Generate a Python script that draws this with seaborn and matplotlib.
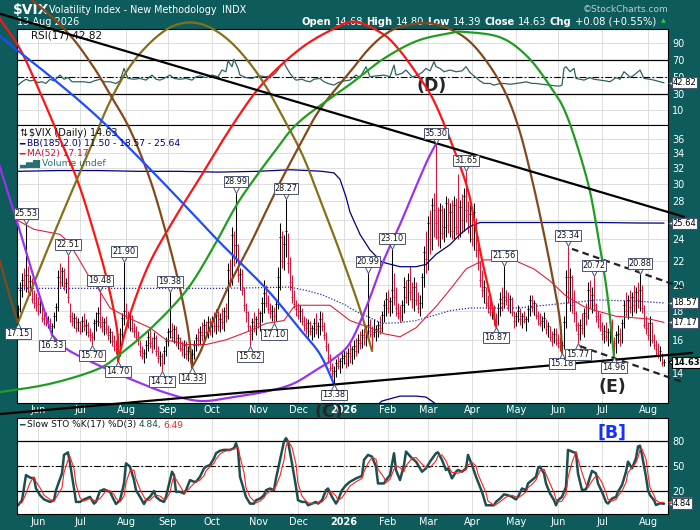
import numpy as np
import pandas as pd
import matplotlib
matplotlib.use("Agg")
import matplotlib.pyplot as plt
import matplotlib.transforms as mtransforms
from matplotlib.ticker import NullLocator
import seaborn as sns

# --- $VIX daily bars (one value per trading day) ---
first_day = "2025-05-19"

bar_high = [
    18.4, 20.2, 21.0, 21.4, 25.53, 21.6, 20.8, 20.5, 19.6, 19.3,
    19.0, 18.9, 18.6, 18.0, 17.9, 17.6, 17.5, 17.1, 17.9, 18.6,
    21.2, 21.8, 21.5, 21.4, 20.5, 22.51, 18.6, 17.9, 17.8, 17.6,
    17.5, 17.3, 17.6, 17.8, 17.4, 17.2, 16.8, 16.5, 17.4, 17.9,
    18.3, 19.48, 17.6, 17.5, 17.6, 17.0, 16.8, 16.6, 16.3, 16.0,
    16.3, 16.8, 17.8, 21.90, 18.6, 18.0, 17.9, 17.7, 17.1, 16.9,
    16.6, 16.0, 15.6, 15.4, 16.0, 16.6, 16.8, 16.2, 16.5, 16.3,
    15.6, 15.3, 15.2, 15.6, 16.2, 16.8, 19.38, 17.1, 17.0, 16.9,
    16.4, 16.2, 15.9, 16.0, 15.9, 15.6, 15.5, 15.4, 16.0, 16.4,
    16.8, 16.9, 17.2, 17.4, 17.3, 17.6, 17.5, 17.6, 17.9, 18.1,
    18.0, 17.8, 18.2, 18.3, 18.6, 21.8, 22.2, 25.2, 24.8, 28.99,
    23.6, 21.4, 21.3, 19.8, 18.6, 18.0, 17.0, 17.5, 17.9, 17.6,
    18.2, 18.0, 19.0, 20.4, 20.0, 19.2, 18.6, 18.4, 18.3, 18.9,
    21.5, 25.6, 24.8, 24.4, 28.27, 24.6, 22.4, 20.8, 19.6, 18.8,
    18.6, 18.4, 18.2, 17.6, 17.5, 17.4, 17.3, 17.0, 17.5, 17.8,
    17.2, 18.0, 17.9, 17.2, 16.5, 15.8, 15.1, 14.6, 14.4, 14.8,
    15.0, 14.9, 15.2, 15.4, 15.3, 15.5, 15.8, 15.6, 16.0, 16.1,
    16.4, 16.6, 16.7, 16.8, 17.0, 20.99, 17.4, 16.9, 17.4, 17.0,
    17.3, 17.6, 18.0, 18.8, 19.4, 19.6, 19.0, 23.10, 21.0, 19.8,
    18.6, 18.4, 18.8, 20.6, 20.4, 21.0, 21.6, 20.2, 20.6, 20.2,
    19.4, 19.2, 21.0, 23.4, 24.8, 26.4, 27.0, 28.4, 29.0, 35.30,
    27.4, 27.8, 27.6, 27.2, 28.6, 28.4, 27.8, 28.2, 28.6, 28.4,
    31.3, 28.2, 28.8, 29.6, 31.65, 28.0, 27.6, 26.8, 27.8, 26.2,
    24.2, 22.0, 21.2, 20.4, 19.8, 19.2, 19.0, 18.6, 18.4, 17.8,
    18.6, 19.4, 19.8, 21.56, 19.6, 19.4, 19.2, 19.0, 18.0, 17.9,
    18.4, 18.2, 17.8, 18.0, 17.6, 18.4, 19.2, 19.2, 18.8, 18.6,
    18.0, 17.8, 17.6, 17.9, 17.4, 17.2, 16.9, 16.6, 16.8, 16.8,
    16.4, 16.2, 15.9, 17.6, 21.2, 23.34, 21.4, 20.8, 19.6, 18.0,
    17.2, 17.4, 17.8, 18.2, 18.6, 20.2, 20.4, 19.8, 20.72, 18.6,
    18.0, 17.8, 17.2, 17.0, 17.2, 16.8, 17.6, 17.4, 16.2, 16.6,
    17.0, 16.8, 17.4, 18.8, 19.4, 19.2, 19.6, 19.4, 20.0, 19.8,
    20.2, 20.88, 20.0, 18.4, 17.6, 17.2, 17.6, 17.2, 16.4, 16.0,
    15.8, 15.6, 15.2, 14.80,
]
bar_low = [
    17.15, 17.9, 19.0, 19.6, 19.4, 19.3, 19.2, 18.6, 18.2, 18.0,
    17.7, 17.8, 17.2, 17.0, 16.9, 16.8, 16.6, 16.33, 16.8, 17.3,
    18.0, 19.8, 19.9, 19.6, 19.3, 18.6, 17.2, 16.9, 16.8, 16.5,
    16.6, 16.4, 16.5, 16.6, 16.3, 16.2, 15.9, 15.70, 16.0, 16.6,
    16.9, 16.8, 16.5, 16.3, 16.4, 16.0, 15.8, 15.6, 15.3, 15.1,
    14.70, 15.0, 15.9, 17.0, 17.4, 16.8, 16.6, 16.5, 16.2, 15.9,
    15.7, 15.0, 14.8, 14.6, 14.9, 15.3, 15.5, 15.2, 15.4, 15.0,
    14.6, 14.4, 14.12, 14.5, 15.0, 15.6, 16.1, 15.9, 15.8, 15.6,
    15.4, 15.3, 15.0, 14.9, 14.8, 14.7, 14.6, 14.33, 14.8, 15.3,
    15.6, 15.7, 15.9, 16.0, 16.2, 16.1, 16.3, 16.2, 16.5, 16.4,
    16.6, 16.5, 16.7, 16.6, 17.2, 17.4, 19.8, 20.0, 21.6, 21.8,
    20.2, 19.6, 19.2, 18.0, 17.2, 16.6, 15.62, 16.0, 16.5, 16.3,
    16.8, 16.6, 17.2, 17.8, 18.3, 17.8, 17.5, 17.3, 17.10, 17.3,
    18.1, 19.6, 21.4, 21.2, 22.4, 21.0, 19.6, 18.6, 18.2, 17.6,
    17.4, 17.2, 17.0, 16.6, 16.4, 16.2, 16.3, 16.0, 16.2, 16.4,
    16.1, 16.3, 16.6, 16.0, 15.3, 14.6, 14.1, 13.8, 13.38, 13.8,
    14.2, 14.0, 14.3, 14.5, 14.3, 14.4, 14.6, 14.5, 14.8, 15.0,
    15.2, 15.4, 15.5, 15.7, 15.6, 16.2, 16.2, 15.3, 16.2, 15.9,
    16.2, 16.4, 16.5, 17.2, 17.6, 17.8, 17.6, 17.8, 18.4, 17.6,
    17.4, 17.2, 17.3, 17.8, 18.6, 18.4, 18.8, 18.2, 18.0, 18.4,
    17.8, 17.6, 18.2, 19.8, 21.0, 21.2, 22.6, 23.0, 24.2, 24.0,
    23.4, 23.2, 24.0, 23.8, 24.2, 24.6, 24.2, 24.0, 24.0, 24.4,
    24.0, 24.2, 24.6, 24.8, 25.8, 24.6, 23.8, 23.4, 23.0, 22.4,
    21.2, 19.8, 19.0, 18.6, 18.2, 17.8, 17.6, 17.4, 17.0, 16.87,
    17.0, 17.6, 18.0, 18.2, 18.4, 18.0, 17.8, 17.6, 16.8, 16.9,
    17.2, 17.0, 16.8, 17.1, 16.6, 17.2, 17.6, 17.9, 17.7, 17.4,
    17.0, 16.9, 16.6, 16.8, 16.4, 16.2, 15.9, 15.6, 15.8, 15.7,
    15.5, 15.3, 15.18, 15.4, 16.8, 18.6, 18.0, 17.8, 17.2, 16.6,
    15.77, 16.0, 16.4, 16.2, 17.0, 17.4, 18.2, 17.8, 18.0, 17.2,
    16.8, 16.6, 16.0, 15.8, 15.9, 15.6, 15.8, 15.6, 14.96, 15.2,
    15.8, 15.6, 15.8, 16.8, 17.6, 17.4, 17.8, 17.6, 17.9, 17.8,
    18.2, 18.0, 17.8, 16.8, 16.4, 16.0, 15.6, 15.8, 15.4, 15.0,
    14.9, 14.7, 14.4, 14.39,
]
bar_close = [
    18.1, 19.6, 20.4, 20.0, 20.8, 19.8, 20.3, 18.9, 18.6, 18.4,
    18.0, 18.5, 17.5, 17.4, 17.1, 17.3, 16.8, 16.9, 17.6, 18.3,
    20.6, 20.2, 21.1, 19.9, 20.1, 19.0, 17.6, 17.3, 17.5, 16.8,
    17.2, 16.6, 17.3, 16.9, 17.0, 16.5, 16.3, 16.2, 17.1, 17.3,
    17.8, 17.2, 16.9, 17.2, 16.7, 16.3, 16.5, 15.9, 15.6, 15.4,
    15.2, 16.4, 17.5, 18.0, 17.7, 17.2, 17.6, 16.8, 16.6, 16.2,
    16.0, 15.3, 15.0, 15.2, 15.7, 16.2, 15.8, 15.6, 16.1, 15.3,
    14.9, 15.0, 14.6, 15.3, 15.9, 16.5, 16.6, 16.2, 16.7, 15.9,
    16.1, 15.5, 15.4, 15.7, 15.1, 15.3, 14.9, 15.1, 15.7, 16.1,
    16.0, 16.5, 16.3, 17.0, 16.5, 17.2, 16.6, 17.3, 16.9, 17.7,
    16.9, 17.4, 17.2, 18.0, 17.6, 21.2, 20.4, 24.4, 22.3, 23.5,
    20.8, 20.9, 19.6, 18.4, 17.9, 16.9, 16.4, 17.2, 16.9, 17.4,
    17.1, 17.8, 18.6, 19.3, 18.6, 18.1, 17.8, 18.0, 17.6, 18.5,
    20.6, 24.2, 22.0, 23.6, 24.8, 21.8, 20.2, 19.0, 18.5, 18.1,
    17.7, 18.0, 17.3, 17.0, 16.8, 17.1, 16.6, 16.8, 17.1, 16.7,
    16.9, 17.4, 16.9, 16.3, 15.6, 14.9, 14.3, 14.0, 14.1, 14.6,
    14.4, 14.7, 14.9, 15.0, 14.6, 15.2, 15.0, 15.4, 15.6, 15.3,
    16.0, 15.8, 16.3, 16.2, 16.5, 17.0, 16.6, 16.4, 16.5, 16.7,
    17.0, 16.8, 17.7, 18.4, 18.9, 18.2, 18.7, 19.6, 19.0, 18.2,
    17.8, 17.6, 18.4, 19.8, 19.0, 20.4, 19.4, 18.9, 19.8, 18.8,
    18.2, 18.6, 20.6, 22.8, 22.2, 25.6, 24.0, 27.6, 27.0, 25.6,
    24.2, 27.0, 24.6, 25.2, 27.8, 25.4, 26.8, 24.8, 27.6, 25.2,
    24.6, 27.4, 26.0, 28.6, 27.0, 25.2, 26.6, 24.0, 26.8, 23.0,
    21.8, 20.4, 19.6, 19.8, 18.6, 18.4, 17.9, 18.2, 17.4, 17.2,
    18.2, 18.9, 18.6, 19.0, 18.8, 18.4, 18.9, 17.9, 17.3, 17.6,
    18.0, 17.4, 17.6, 17.3, 17.4, 18.1, 18.8, 18.3, 18.6, 17.7,
    17.6, 17.1, 17.3, 17.5, 16.7, 16.9, 16.2, 15.9, 16.4, 16.0,
    15.8, 15.6, 15.7, 17.2, 20.6, 19.4, 20.6, 18.4, 17.8, 17.0,
    16.4, 17.0, 16.8, 17.8, 17.6, 19.6, 18.8, 19.2, 18.4, 17.6,
    17.4, 16.9, 16.4, 16.6, 16.2, 16.5, 17.2, 15.9, 15.8, 16.3,
    16.4, 16.0, 17.1, 18.4, 18.0, 18.8, 18.3, 19.0, 18.4, 19.4,
    18.8, 19.6, 18.2, 17.0, 16.8, 16.3, 17.1, 16.0, 15.7, 15.4,
    15.2, 15.3, 14.55, 14.63,
]

# --- Bollinger bands (185, 2) and MA(52), read at sample days ---
bb_idx = [0, 20, 40, 60, 80, 100, 120, 136, 145, 152,
          158, 161, 164, 166, 171, 176, 182, 191, 199, 204,
          209, 216, 221, 226, 231, 250, 270, 290, 310, 323]
bb_upper = [31.6, 31.7, 31.7, 31.6, 31.6, 31.5, 31.6, 31.8, 31.7, 31.6,
            31.4, 30.6, 28.5, 26.8, 24.5, 23.0, 21.9, 21.5, 21.5, 21.7,
            22.6, 23.5, 24.5, 25.3, 25.7, 25.7, 25.7, 25.7, 25.65, 25.64]
bb_mid = [19.7, 19.7, 19.7, 19.7, 19.7, 19.7, 19.75, 19.8, 19.5, 19.2,
          18.8, 18.6, 18.4, 18.2, 17.8, 17.5, 17.1, 17.15, 17.3, 17.5,
          17.7, 18.0, 18.1, 18.2, 18.2, 18.2, 18.5, 18.8, 18.7, 18.57]
bb_lower = [7.8, 7.7, 7.7, 7.8, 7.8, 7.9, 7.9, 7.8, 7.1, 6.6,
            6.2, 6.4, 7.9, 9.2, 10.7, 12.0, 12.5, 12.75, 12.75, 12.7,
            12.35, 12.0, 11.7, 11.1, 10.7, 10.7, 11.3, 11.9, 11.75, 11.50]

ma_idx = [0, 8, 21, 25, 30, 35, 40, 46, 55, 66,
          74, 84, 94, 104, 116, 124, 133, 138, 141, 156,
          166, 176, 183, 191, 199, 209, 216, 224, 233, 243,
          249, 258, 266, 274, 283, 289, 299, 316, 323]
ma_val = [25.9, 25.0, 24.5, 23.8, 22.3, 20.8, 19.7, 18.2, 17.5, 16.8,
          16.0, 15.7, 15.7, 16.0, 16.6, 17.1, 17.3, 18.3, 18.4, 18.4,
          17.3, 16.8, 16.4, 16.2, 16.8, 18.3, 19.6, 21.3, 22.1, 22.1,
          22.0, 21.3, 20.3, 19.1, 18.3, 18.0, 17.6, 17.4, 17.17]

# --- RSI(17) ---
rsi_idx = [0, 2, 4, 6, 8, 10, 12, 14, 16, 18,
           21, 23, 25, 27, 30, 33, 36, 38, 41, 43,
           46, 49, 51, 53, 55, 58, 61, 64, 67, 69,
           71, 73, 76, 78, 81, 84, 87, 89, 91, 94,
           97, 100, 102, 104, 105, 107, 108, 110, 111, 114,
           117, 119, 121, 124, 127, 129, 131, 133, 134, 136,
           138, 139, 142, 144, 146, 148, 151, 153, 155, 158,
           160, 163, 166, 169, 171, 174, 176, 179, 183, 186,
           188, 189, 192, 194, 197, 199, 202, 204, 206, 208,
           209, 211, 213, 216, 219, 222, 224, 226, 228, 231,
           233, 236, 238, 241, 243, 246, 249, 252, 254, 257,
           259, 262, 266, 269, 271, 272, 273, 274, 276, 278,
           279, 281, 283, 286, 288, 291, 294, 296, 299, 301,
           303, 305, 306, 308, 311, 313, 316, 318, 321, 323]
rsi_val = [40, 44, 47, 45, 46, 43, 44, 42, 47, 45,
           52, 47, 49, 44, 44, 44, 43, 45, 47, 44,
           44, 42, 45, 60, 48, 47, 48, 46, 52, 47,
           46, 48, 52, 48, 47, 48, 46, 50, 51, 49,
           52, 50, 58, 56, 69, 62, 71, 60, 52, 49,
           48, 50, 51, 50, 51, 55, 62, 67, 62, 54,
           48, 46, 47, 45, 44, 47, 48, 44, 42, 40,
           43, 45, 46, 52, 49, 62, 50, 51, 52, 50,
           64, 52, 54, 58, 50, 51, 55, 60, 57, 68,
           62, 60, 56, 58, 56, 57, 62, 55, 51, 45,
           42, 42, 40, 42, 42, 41, 42, 43, 44, 42,
           42, 41, 40, 39, 39, 40, 60, 62, 56, 60,
           48, 47, 46, 49, 47, 46, 45, 44, 49, 47,
           56, 52, 49, 52, 58, 48, 47, 46, 44, 42.82]

# --- Slow stochastic %K(17) %D(3) ---
sto_idx = [0, 2, 4, 6, 8, 9, 11, 13, 16, 18,
           19, 22, 23, 25, 26, 28, 29, 31, 33, 34,
           36, 38, 39, 41, 43, 44, 46, 48, 49, 51,
           53, 54, 56, 58, 59, 61, 63, 64, 66, 68,
           69, 71, 73, 74, 76, 77, 78, 79, 81, 83,
           84, 86, 88, 89, 91, 93, 94, 96, 98, 99,
           101, 103, 106, 108, 109, 110, 111, 113, 114, 116,
           118, 119, 121, 123, 124, 126, 128, 129, 131, 133,
           134, 135, 137, 139, 140, 142, 144, 145, 147, 149,
           150, 152, 154, 155, 157, 159, 160, 162, 164, 166,
           169, 172, 173, 175, 177, 179, 180, 183, 184, 186,
           188, 189, 191, 193, 194, 197, 199, 202, 204, 206,
           209, 210, 212, 214, 215, 217, 219, 220, 222, 224,
           225, 227, 229, 230, 232, 234, 235, 238, 239, 241,
           243, 245, 247, 249, 250, 252, 254, 255, 257, 259,
           260, 261, 263, 264, 266, 268, 269, 270, 272, 274,
           275, 277, 279, 280, 282, 284, 285, 287, 289, 290,
           292, 294, 295, 297, 299, 300, 302, 304, 305, 307,
           309, 310, 311, 312, 314, 315, 316, 318, 319, 321,
           323]
sto_k = [3, 9, 39, 36, 35, 23, 15, 10, 7, 9,
         21, 41, 63, 66, 53, 23, 7, 7, 10, 11,
         13, 5, 7, 20, 22, 21, 19, 9, 4.5, 9,
         29, 53, 49, 33, 21, 13, 4.5, 9, 13, 20,
         13, 9, 7, 13, 33, 43, 39, 19, 19, 17,
         21, 33, 31, 31, 37, 47, 49, 51, 59, 65,
         68, 69, 69, 71, 77, 69, 37, 21, 13, 5,
         5, 9, 11, 15, 21, 23, 21, 35, 57, 79,
         83, 79, 53, 25, 9, 7, 7, 3, 5, 7,
         5, 9, 21, 23, 13, 5, 9, 21, 27, 31,
         35, 38, 57, 63, 61, 49, 29, 29, 33, 39,
         65, 45, 33, 51, 67, 59, 55, 43, 47, 55,
         65, 66, 57, 45, 47, 35, 43, 45, 43, 47,
         63, 51, 37, 31, 19, 3, 3, 3, 7, 11,
         16, 15, 13, 10, 13, 23, 21, 29, 33, 37,
         47, 49, 41, 29, 17, 9, 3, 9, 13, 25,
         69, 67, 65, 41, 21, 22, 29, 44, 41, 29,
         19, 7, 5, 11, 13, 19, 27, 43, 55, 47,
         59, 73, 74, 63, 37, 21, 15, 9, 3.3, 5.3,
         4.84]
sto_d = [5, 6, 17, 30, 37, 31, 24, 15, 10, 8,
         12, 24, 42, 57, 61, 47, 28, 12, 8, 9,
         11, 9, 8, 11, 17, 21, 20, 16, 11, 7,
         14, 30, 44, 45, 34, 22, 13, 9, 9, 14,
         15, 14, 10, 10, 18, 30, 38, 34, 26, 18,
         19, 24, 29, 31, 33, 38, 44, 49, 53, 58,
         64, 67, 69, 70, 72, 72, 61, 42, 24, 13,
         8, 6, 8, 12, 16, 20, 22, 26, 38, 57,
         73, 80, 72, 52, 29, 14, 8, 6, 5, 5,
         6, 7, 12, 18, 19, 14, 9, 12, 19, 26,
         31, 35, 43, 53, 60, 58, 46, 36, 30, 34,
         46, 50, 48, 43, 50, 59, 60, 52, 48, 48,
         56, 62, 63, 56, 50, 42, 42, 41, 44, 45,
         51, 54, 50, 40, 29, 18, 8, 3, 4, 7,
         11, 14, 15, 13, 12, 15, 19, 24, 28, 33,
         39, 44, 46, 40, 29, 18, 10, 7, 8, 16,
         36, 54, 67, 58, 42, 28, 24, 32, 38, 38,
         30, 18, 10, 8, 10, 14, 20, 30, 42, 48,
         54, 60, 69, 70, 58, 40, 24, 15, 9, 6,
         6.49]

# --- swing labels: day index, price, H(igh) or L(ow) ---
label_idx = [0, 4, 17, 25, 37, 41, 50, 53, 72, 76, 87, 109, 116, 128,
             134, 158, 175, 187, 209, 224, 239, 243, 272, 275, 280, 288, 298, 311]
label_price = [17.15, 25.53, 16.33, 22.51, 15.70, 19.48, 14.70, 21.90, 14.12,
               19.38, 14.33, 28.99, 15.62, 17.10, 28.27, 13.38, 20.99, 23.10,
               35.30, 31.65, 16.87, 21.56, 15.18, 23.34, 15.77, 20.72, 14.96, 20.88]
label_side = ["L", "H", "L", "H", "L", "H", "L", "H", "L", "H", "L", "H", "L", "L",
              "H", "L", "H", "H", "H", "H", "L", "H", "L", "H", "L", "H", "L", "H"]

# --- hand drawn cycle arcs (day index, price) ---
red_arc1_idx = [-11.5, -9, 1, 11, 19.5, 29.5, 37.5, 44.5, 49.5, 50]
red_arc1_px = [61.4, 58.5, 51.8, 43.5, 37.0, 30.6, 25.0, 20.4, 16.7, 14.70]
red_arc2_idx = [50, 52.5, 57.5, 66, 78.5, 91, 107.5, 122.5, 141, 157.5, 168.5,
                182.5, 191, 199.5, 207.5, 216, 224.5, 228.5, 232, 236, 239]
red_arc2_px = [14.70, 16.0, 18.4, 21.9, 26.2, 30.8, 38.2, 45.1, 51.8, 56.1, 57.8,
               55.0, 51.4, 46.8, 42.3, 36.0, 29.7, 25.5, 22.1, 19.2, 16.87]
olive_arc_idx = [0, 11, 22.5, 34.5, 46, 57.5, 71, 82.5, 94.5, 107.5, 121, 132.5,
                 142.5, 151, 161, 171, 177]
olive_arc_px = [17.15, 21.4, 26.8, 33.6, 41.9, 49.1, 55.0, 57.5, 56.8, 52.8, 46.2,
                39.3, 33.6, 28.2, 22.8, 18.1, 15.3]
brown_arc1_idx = [-16.5, -9, -4, 0]
brown_arc1_px = [26.0, 21.9, 19.0, 17.15]
brown_arc2_idx = [-6.5, 6, 24.5, 37.5, 46, 56, 66, 73.5, 80, 85, 87]
brown_arc2_px = [66.5, 63.4, 55.5, 48.3, 43.1, 37.4, 30.6, 25.0, 20.4, 16.7, 14.33]
brown_arc3_idx = [87, 91, 94.5, 104.5, 116, 124.5, 131, 141, 151, 166, 174.5, 182.5,
                  191, 204.5, 216, 226, 236, 244.5, 251, 257, 262.5, 267.5, 271, 272]
brown_arc3_px = [14.33, 15.2, 16.3, 19.6, 23.5, 27.1, 30.2, 35.2, 40.6, 47.2, 51.4, 54.6,
                 56.6, 57.5, 56.1, 53.3, 48.3, 42.8, 37.0, 30.6, 25.0, 20.4, 17.3, 15.18]
green_arc_idx = [-19, -9, 16, 39.5, 51, 67.5, 84.5, 97.5, 107.5, 114.5, 128.5, 141,
                 166, 182.5, 199.5, 216, 222.5, 241, 254.5, 266, 274.5, 284.5, 289.5,
                 294.5, 298]
green_arc_px = [12.86, 12.96, 13.4, 14.2, 15.1, 16.9, 19.6, 23.2, 26.9, 29.4, 34.3, 38.7,
                44.9, 49.7, 53.5, 55.2, 55.5, 54.3, 50.3, 44.6, 39.5, 30.6, 25.0,
                19.4, 14.96]
purple_arc1_idx = [-13, -9, -0.5, 7.5, 12.5, 17]
purple_arc1_px = [36.0, 32.1, 25.8, 20.8, 18.3, 16.33]
purple_arc2_idx = [17, 24.5, 41, 57.5, 74.5, 91, 107.5, 124.5, 137.5, 149.5, 157.5,
                   166, 174.5, 182.5, 191, 199.5, 205, 209]
purple_arc2_px = [16.33, 15.4, 14.4, 13.6, 12.9, 12.5, 12.7, 13.0, 13.4, 14.2, 14.8,
                  15.8, 18.4, 21.9, 25.5, 30.0, 33.2, 35.30]
blue_arc_idx = [-11.5, -9, 16, 41, 71, 99.5, 124.5, 141, 151, 158]
blue_arc_px = [57.3, 54.6, 46.4, 39.0, 30.6, 24.0, 19.6, 16.7, 15.1, 13.38]

# --- straight trend lines ---
upper_trend_idx, upper_trend_px = [-9, 333], [59.7, 26.3]
lower_trend_idx, lower_trend_px = [-9, 337], [11.86, 15.18]
chan_top_idx, chan_top_px = [277, 332.5], [23.1, 19.76]
chan_bot_idx, chan_bot_px = [281, 332], [15.6, 13.5]

# ------------------------------------------------------------------
W, H, DPI = 700, 530, 100
TEAL = "#0d5b5b"
BOXEDGE = "#4a5472"

n = len(bar_close)
dates = pd.bdate_range(first_day, periods=n)
idx = np.arange(n)
month_start = [i for i in range(1, n) if dates[i].month != dates[i - 1].month]
month_text = [str(dates[i].year) if dates[i].month == 1 else dates[i].strftime("%b")
              for i in month_start]

sns.set_theme(style="white")
plt.rcParams["font.family"] = ["DejaVu Sans"]

fig = plt.figure(figsize=(W / DPI, H / DPI), dpi=DPI, facecolor=TEAL)


def panel(top, bottom):
    ax = fig.add_axes([17 / W, 1 - bottom / H, 651 / W, (bottom - top) / H])
    ax.set_facecolor("white")
    for s in ax.spines.values():
        s.set_color("black")
        s.set_linewidth(0.8)
    ax.set_xlim(-0.5, 325)
    ax.set_xticks(month_start)
    ax.grid(True, color="#d9d9d9", lw=0.6)
    ax.set_axisbelow(True)
    ax.yaxis.tick_right()
    ax.tick_params(axis="both", length=0, labelcolor="white", labelsize=7)
    ax.tick_params(axis="y", pad=3)
    return ax


def smooth_arc(xs, ys, steps=30):
    # Catmull-Rom through the anchors, done in (day, log price) space
    pts = np.column_stack([xs, np.log(ys)])
    P = np.vstack([pts[0], pts, pts[-1]])
    out = []
    t = np.linspace(0, 1, steps, endpoint=False)[:, None]
    for k in range(1, len(P) - 2):
        p0, p1, p2, p3 = P[k - 1], P[k], P[k + 1], P[k + 2]
        out.append(0.5 * (2 * p1 + (-p0 + p2) * t + (2 * p0 - 5 * p1 + 4 * p2 - p3) * t ** 2
                          + (-p0 + 3 * p1 - 3 * p2 + p3) * t ** 3))
    out.append(P[-2][None, :])
    c = np.vstack(out)
    return c[:, 0], np.exp(c[:, 1])


def value_tag(ax, val, txt, edge, weight="normal"):
    trans = mtransforms.blended_transform_factory(ax.transAxes, ax.transData)
    ax.plot([1.0], [val], transform=mtransforms.offset_copy(trans, fig=fig, x=3, y=0, units="dots"),
            marker="<", ms=4.2, mfc="white", mec=edge, mew=0.8, clip_on=False, zorder=9)
    ax.annotate(txt, xy=(1.0, val), xycoords=trans, xytext=(3.4, 0), textcoords="offset points",
                ha="left", va="center", fontsize=6.0, fontweight=weight, color="black",
                bbox=dict(boxstyle="square,pad=0.12", fc="white", ec=edge, lw=0.8),
                annotation_clip=False, zorder=10)


def text_run(x_px, y_px, parts, size, align="left", gap=3.0, zorder=2):
    renderer = fig.canvas.get_renderer()
    items = []
    for s, weight, col in parts:
        t = fig.text(x_px / W, 1 - y_px / H, s, fontsize=size, fontweight=weight, color=col,
                     va="center", ha="left", zorder=zorder)
        items.append((t, t.get_window_extent(renderer).width))
    total = sum(w for _, w in items) + gap * (len(items) - 1)
    x = x_px - total if align == "right" else x_px
    for t, w in items:
        t.set_x(x / W)
        x += w + gap


# ---- RSI panel ----
ax_rsi = panel(29, 125)
ax_rsi.set_ylim(-7.6, 107)
ax_rsi.set_yticks([10, 30, 50, 70, 90])
ax_rsi.tick_params(axis="x", labelbottom=False)
for lvl in (30, 70):
    ax_rsi.axhline(lvl, color="black", lw=0.9, zorder=1)
ax_rsi.axhline(50, color="black", lw=0.8, ls=(0, (6, 2, 1.5, 2)), zorder=1)
sns.lineplot(x=rsi_idx, y=rsi_val, ax=ax_rsi, color="#2d6262", lw=0.9)
value_tag(ax_rsi, rsi_val[-1], f"{rsi_val[-1]:.2f}", BOXEDGE)
ax_rsi.text(207, 39, "(D)", fontsize=12.5, fontweight="bold", ha="center", va="center", zorder=6)

# ---- price panel ----
ax_main = panel(125, 403)
ax_main.set_zorder(3)
ax_main.set_yscale("log")
ax_main.set_ylim(12.40, 38.1)
ticks = [14, 16, 18, 20, 22, 24, 26, 28, 30, 32, 34, 36]
ax_main.set_yticks(ticks)
# the 26 label sits under the 25.64 tag on the original chart
ax_main.set_yticklabels(["" if v == 26 else str(v) for v in ticks])
ax_main.yaxis.set_minor_locator(NullLocator())
ax_main.set_xticklabels(month_text)
ax_main.tick_params(axis="x", pad=1.5)

close = np.array(bar_close)
prev = np.r_[close[0], close[:-1]]
cols = np.where(close >= prev, "black", "#d6163c")
ax_main.vlines(idx, bar_low, bar_high, colors=cols, lw=0.75, zorder=2)
ax_main.hlines(close, idx - 0.45, idx + 0.45, colors=cols, lw=0.75, zorder=2)

sns.lineplot(x=bb_idx, y=bb_upper, ax=ax_main, color="#000080", lw=0.9, zorder=3)
sns.lineplot(x=bb_idx, y=bb_lower, ax=ax_main, color="#000080", lw=0.9, zorder=3)
sns.lineplot(x=bb_idx, y=bb_mid, ax=ax_main, color="#2a2aa8", lw=0.9, ls=(0, (1, 1.4)), zorder=3)
sns.lineplot(x=ma_idx, y=ma_val, ax=ax_main, color="#e0203c", lw=0.8, zorder=3)

arcs = [
    (red_arc1_idx, red_arc1_px, "#ff1414"),
    (red_arc2_idx, red_arc2_px, "#ff1414"),
    (olive_arc_idx, olive_arc_px, "#857018"),
    (brown_arc1_idx, brown_arc1_px, "#86481a"),
    (brown_arc2_idx, brown_arc2_px, "#86481a"),
    (brown_arc3_idx, brown_arc3_px, "#86481a"),
    (green_arc_idx, green_arc_px, "#1e9e1e"),
    (purple_arc1_idx, purple_arc1_px, "#9a32f0"),
    (purple_arc2_idx, purple_arc2_px, "#9a32f0"),
    (blue_arc_idx, blue_arc_px, "#1f4cff"),
]
for xs, ys, col in arcs:
    sx, sy = smooth_arc(xs, ys)
    ax_main.plot(sx, sy, color=col, lw=1.6, clip_on=False, zorder=4, solid_capstyle="round")

ax_main.plot(upper_trend_idx, upper_trend_px, color="black", lw=1.6, clip_on=False, zorder=4)
ax_main.plot(lower_trend_idx, lower_trend_px, color="black", lw=1.6, clip_on=False, zorder=4)
ax_main.plot(chan_top_idx, chan_top_px, color="#222222", lw=1.6, ls=(0, (3, 2)), clip_on=False, zorder=4)
ax_main.plot(chan_bot_idx, chan_bot_px, color="#222222", lw=1.6, ls=(0, (3, 2)), clip_on=False, zorder=4)

for i, p, side in zip(label_idx, label_price, label_side):
    d = 1 if side == "H" else -1
    tip = mtransforms.offset_copy(ax_main.transData, fig=fig, x=0, y=d * 3, units="dots")
    ax_main.plot([i], [p], marker="v" if d > 0 else "^", ms=4.5, mfc="white", mec=BOXEDGE,
                 mew=0.7, transform=tip, clip_on=False, zorder=7)
    ax_main.annotate(f"{p:.2f}", (i, p), xytext=(0, d * 7.8), textcoords="offset points",
                     ha="center", va="center", fontsize=5.9, color="#111111",
                     bbox=dict(boxstyle="square,pad=0.12", fc="white", ec=BOXEDGE, lw=0.7),
                     annotation_clip=False, zorder=8)

value_tag(ax_main, bb_upper[-1], f"{bb_upper[-1]:.2f}", BOXEDGE)
value_tag(ax_main, bb_mid[-1], f"{bb_mid[-1]:.2f}", BOXEDGE)
value_tag(ax_main, ma_val[-1], f"{ma_val[-1]:.2f}", BOXEDGE)
value_tag(ax_main, bar_close[-1], f"{bar_close[-1]:.2f}", "black", weight="bold")

ax_main.text(155.5, 11.96, "(C)", fontsize=12.5, fontweight="bold", ha="center", va="center",
             clip_on=False, zorder=9)
ax_main.text(297, 13.23, "(E)", fontsize=12.5, fontweight="bold", ha="center", va="center",
             clip_on=False, zorder=9)

# ---- stochastic panel ----
ax_sto = panel(418, 514)
ax_sto.set_ylim(-7.4, 107)
ax_sto.set_yticks([20, 50, 80])
ax_sto.set_xticklabels(month_text)
ax_sto.tick_params(axis="x", pad=2.5)
for lvl in (20, 80):
    ax_sto.axhline(lvl, color="black", lw=0.9, zorder=1)
ax_sto.axhline(50, color="black", lw=0.8, ls=(0, (6, 2, 1.5, 2)), zorder=1)
sns.lineplot(x=sto_idx, y=sto_k, ax=ax_sto, color="#1d4f4f", lw=1.8)
sns.lineplot(x=sto_idx, y=sto_d, ax=ax_sto, color="#ff2020", lw=0.8)
value_tag(ax_sto, sto_d[-1], f"{sto_d[-1]:.2f}", "#ff2020")
value_tag(ax_sto, sto_k[-1], f"{sto_k[-1]:.2f}", BOXEDGE)
ax_sto.text(297, 89, "[B]", fontsize=12.5, fontweight="bold", color="#1432ff",
            ha="center", va="center", zorder=6)

for ax in (ax_rsi, ax_main, ax_sto):
    ax.set_xlabel("")
    ax.set_ylabel("")
    for lab in ax.get_xticklabels():
        if lab.get_text().isdigit():
            lab.set_fontweight("bold")

# ---- header and legends ----
fig.text(13 / W, 1 - 10 / H, "$VIX", fontsize=10, fontweight="bold", color="white",
         va="center", zorder=2)
text_run(49, 10, [("Volatility Index - New Methodology", "normal", "white"),
                  ("INDX", "normal", "white")], 6.9, gap=5)
fig.text(17 / W, 1 - 22 / H, "13 Aug 2026", fontsize=7, color="white", va="center", zorder=2)
fig.text(668 / W, 1 - 9 / H, "\u00a9StockCharts.com", fontsize=6.5, color="#b9cfcf",
         ha="right", va="center", zorder=2)
text_run(656, 22, [("Open", "bold", "white"), ("14.68", "normal", "white"),
                   ("High", "bold", "white"), ("14.80", "normal", "white"),
                   ("Low", "bold", "white"), ("14.39", "normal", "white"),
                   ("Close", "bold", "white"), ("14.63", "normal", "white"),
                   ("Chg", "bold", "white"), ("+0.08 (+0.55%)", "normal", "white")],
         7.2, align="right", gap=3.2)
fig.text(663 / W, 1 - 21 / H, "\u25b2", fontsize=4.5, color="#2ecc40", ha="center",
         va="center", zorder=2)

text_run(31, 35, [("RSI(17) 42.82", "normal", "#111111")], 7.5)
text_run(19, 133, [("\u21c5", "normal", "#111111"), ("$VIX (Daily) 14.63", "normal", "#111111")],
         7, gap=2, zorder=5)
text_run(19, 144, [("\u2501", "bold", "#000080"),
                   ("BB(185,2.0) 11.50 - 18.57 - 25.64", "normal", "#000080")], 6.6, gap=2, zorder=5)
text_run(19, 154, [("\u2501", "bold", "#e0103a"), ("MA(52) 17.17", "normal", "#d0103a")],
         6.6, gap=2, zorder=5)
text_run(19, 164, [("\u2583\u2585\u2587", "normal", "#2a7070"), ("Volume undef", "normal", "#2a7070")],
         6.6, gap=2, zorder=5)
text_run(19, 425, [("\u2501", "bold", "#1d4f4f"), ("Slow STO %K(17) %D(3)", "normal", "#111111"),
                   ("4.84,", "normal", "#1d4f4f"), ("6.49", "normal", "#ff2020")], 6.5, gap=2.5)

fig.savefig("out.png", dpi=DPI, facecolor=TEAL)
